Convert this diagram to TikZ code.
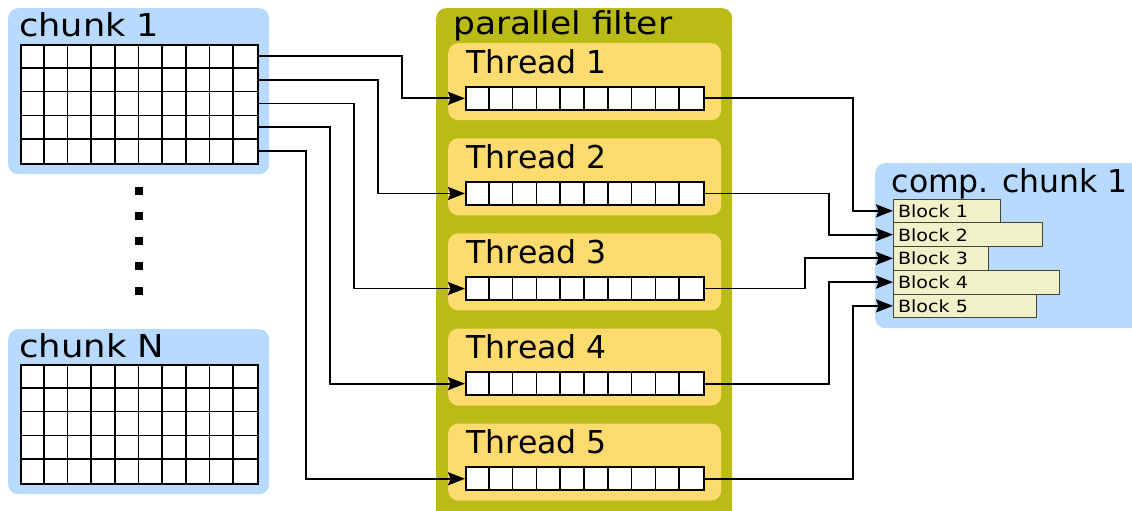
\documentclass[tikz,border=0pt]{standalone}
\usepackage{graphicx}
\usepackage{fontspec}
\setmainfont{DejaVu Sans}
\usetikzlibrary{arrows.meta,calc}
\definecolor{chunkblue}{RGB}{185,218,255}
\definecolor{filterolive}{RGB}{187,187,24}
\definecolor{threadyellow}{RGB}{253,219,110}
\definecolor{blockfill}{RGB}{240,240,201}
\definecolor{blockedge}{RGB}{70,70,55}
\newcommand\stretchlabel[2]{\resizebox{#1}{\height}{#2}}
\tikzset{
  bigtext/.style={font=\fontsize{31.5}{37}\selectfont, inner sep=0pt, anchor=base west},
  smalltext/.style={font=\fontsize{16.8}{20}\selectfont},
  bluebox/.style={fill=chunkblue, rounded corners=10pt, inner sep=0pt, anchor=north west},
  olivebox/.style={fill=filterolive, rounded corners=10pt, inner sep=0pt, anchor=north west},
  threadbox/.style={fill=threadyellow, rounded corners=10pt, inner sep=0pt, anchor=north west, minimum width=273pt, minimum height=77pt},
  gridbox/.style={draw=black, fill=white, line width=1.7pt, inner sep=0pt, anchor=north west, minimum width=237pt, minimum height=119pt},
  rowbox/.style={draw=black, fill=white, line width=1.7pt, inner sep=0pt, anchor=north west, minimum width=238pt, minimum height=23pt},
  gridline/.style={line width=1.7pt},
  blockbox/.style={draw=blockedge, fill=blockfill, line width=1pt, inner ysep=0pt, inner xsep=4.5pt, anchor=north west, minimum height=23.75pt, smalltext, text depth=0pt, align=left},
  conn/.style={line width=1.8pt, -{Stealth[length=17pt,width=13pt,inset=2.5pt]}},
  dotsq/.style={fill=black, inner sep=0pt, minimum size=8pt},
}
\begin{document}
\begin{tikzpicture}[x=1pt,y=-1pt]
\useasboundingbox (0,0) rectangle (1132,511);
% chunk 1
\node[bluebox, minimum width=261pt, minimum height=166pt] (c1box) at (8,8) {};
\node[bigtext] (c1lab) at (19,37) {\stretchlabel{140pt}{chunk 1}};
\node[gridbox] (c1grid) at (20,44) {};
\foreach \i in {1,...,9} \draw[gridline] ($(c1grid.north west)+(\i*23.7,0)$) -- ++(0,119);
\foreach \j in {1,...,4} \draw[gridline] ($(c1grid.north west)+(0,\j*23.8)$) -- ++(237,0);
\foreach \j in {1,...,5} \coordinate (c1r\j) at ($(c1grid.north east)+(0,\j*23.8-11.9)$);
% dots
\foreach \k in {0,...,4} \node[dotsq] (dot\k) at (139,191+\k*25) {};
% chunk N
\node[bluebox, minimum width=261pt, minimum height=165pt] (cNbox) at (8,329) {};
\node[bigtext] (cNlab) at (19,357) {\stretchlabel{145pt}{chunk N}};
\node[gridbox] (cNgrid) at (20,364) {};
\foreach \i in {1,...,9} \draw[gridline] ($(cNgrid.north west)+(\i*23.7,0)$) -- ++(0,119);
\foreach \j in {1,...,4} \draw[gridline] ($(cNgrid.north west)+(0,\j*23.8)$) -- ++(237,0);
% parallel filter
\node[olivebox, minimum width=296pt, minimum height=513pt] (pf) at (436,8) {};
\node[bigtext] (pflab) at (453,35) {\stretchlabel{219pt}{parallel filter}};
\foreach \t in {1,...,5} {
  \node[threadbox] (th\t) at (448,{43+95.1*(\t-1)}) {};
  \node[bigtext] (th\t lab) at (466.5,{73.3+95.1*(\t-1)}) {Thread \t};
  \node[rowbox] (t\t row) at (465,{86+95.1*(\t-1)}) {};
  \foreach \i in {1,...,9} \draw[gridline] ($(t\t row.north west)+(\i*23.8,0)$) -- ++(0,23);
}
% compressed chunk
\node[bluebox, minimum width=270pt, minimum height=165pt] (cc) at (875,163) {};
\node[bigtext] (cclab) at (891.5,192) {comp. chunk 1};
\node[blockbox, minimum width=107pt, text width=98pt] (b1) at (893,198.5) {\stretchlabel{70pt}{Block 1}};
\node[blockbox, minimum width=149pt, text width=140pt] (b2) at (893,222.25) {\stretchlabel{70pt}{Block 2}};
\node[blockbox, minimum width=95pt, text width=86pt] (b3) at (893,246) {\stretchlabel{70pt}{Block 3}};
\node[blockbox, minimum width=166pt, text width=157pt] (b4) at (893,269.75) {\stretchlabel{70pt}{Block 4}};
\node[blockbox, minimum width=143pt, text width=134pt] (b5) at (893,293.5) {\stretchlabel{70pt}{Block 5}};
% connectors chunk -> threads
\draw[conn] (c1r1) -- ++(143,0) |- (t1row.west);
\draw[conn] (c1r2) -- ++(119,0) |- (t2row.west);
\draw[conn] (c1r3) -- ++(95,0) |- (t3row.west);
\draw[conn] (c1r4) -- ++(71,0) |- (t4row.west);
\draw[conn] (c1r5) -- ++(47,0) |- (t5row.west);
% connectors threads -> blocks
\draw[conn] (t1row.east) -- ++(148.5,0) |- (b1.west);
\draw[conn] (t2row.east) -- ++(124,0) |- (b2.west);
\draw[conn] (t3row.east) -- ++(100,0) |- (b3.west);
\draw[conn] (t4row.east) -- ++(124,0) |- (b4.west);
\draw[conn] (t5row.east) -- ++(148.5,0) |- (b5.west);
\end{tikzpicture}
\end{document}
